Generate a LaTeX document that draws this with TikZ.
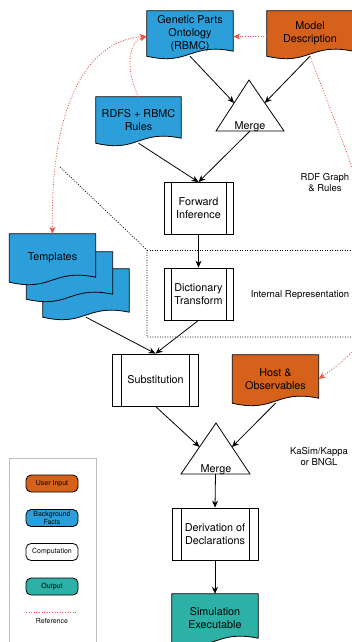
\documentclass[tikz,border=0pt]{standalone}
\usepackage{fontspec}
\setmainfont{TeX Gyre Heros}
\usetikzlibrary{arrows.meta,calc}

\definecolor{inputorange}{RGB}{214,97,26}
\definecolor{factblue}{RGB}{44,159,219}
\definecolor{outputteal}{RGB}{45,176,165}
\definecolor{refred}{RGB}{234,84,74}
\definecolor{keygray}{RGB}{190,190,190}

\pgfdeclarelayer{background}
\pgfsetlayers{background,main}

\newcommand{\boxfont}{\fontsize{10.8}{13}\selectfont}
\newcommand{\notefont}{\fontsize{9.5}{11}\selectfont}
\newcommand{\keyfont}{\fontsize{7}{8.5}\selectfont}

% wavy-bottom document outline behind a node
\newcommand{\docshape}[2]{%
	\begin{pgfonlayer}{background}
		\draw[line width=0.8pt, fill=#2] (#1.south west) -- (#1.north west) -- (#1.north east)
			-- ([yshift=5pt]#1.south east)
			.. controls ([yshift=14pt]#1.south) and ([yshift=-10pt]#1.south) .. (#1.south west) -- cycle;
	\end{pgfonlayer}}

\tikzset{
	doc/.style={minimum width=86pt, minimum height=#1, inner sep=0pt, align=center, font=\boxfont},
	doc/.default=46pt,
	process/.style={draw, line width=0.8pt, fill=white, minimum width=86pt, minimum height=52pt,
		inner sep=0pt, align=center, font=\boxfont,
		path picture={
			\draw[line width=0.8pt] ([xshift=#1]path picture bounding box.north west) -- ([xshift=#1]path picture bounding box.south west)
				([xshift=-#1]path picture bounding box.north east) -- ([xshift=-#1]path picture bounding box.south east);}},
	process/.default=9pt,
	keybox/.style={draw, line width=0.8pt, rounded corners=5pt, minimum width=52pt, minimum height=17pt,
		inner sep=0pt, align=center, font=\keyfont},
	note/.style={align=center, font=\notefont, inner sep=0pt},
	flow/.style={->, line width=0.8pt},
	refarrow/.style={refred, line width=0.8pt, dash pattern=on 1pt off 1.6pt},
}

\begin{document}
\begin{tikzpicture}[x=1pt, y=-1pt, >={Stealth[length=7pt,width=6pt]}]
		\useasboundingbox (0,0) rectangle (351,642);

		% inputs and facts
		\node[doc=45pt] (onto) at (190,33.5) {Genetic Parts\\Ontology\\(RBMC)};
		\docshape{onto}{factblue}
		\node[doc=45pt] (model) at (310,33.5) {Model\\Description};
		\docshape{model}{inputorange}
		\node[doc, minimum width=85pt] (rdfs) at (138.5,120) {RDFS + RBMC\\Rules};
		\docshape{rdfs}{factblue}

		% first merge
		\coordinate (m1top) at (249,80);
		\coordinate (m1left) at (216,131);
		\coordinate (m1right) at (284,131);
		\draw[line width=0.8pt, fill=white] (m1top) -- (m1left) -- (m1right) -- cycle;
		\node[font=\boxfont, anchor=base, inner sep=0pt] (merge1) at (250,129.5) {Merge};
		\coordinate (m1in1) at ($(m1top)!0.45!(m1left)$);
		\coordinate (m1in2) at ($(m1top)!0.45!(m1right)$);
		\coordinate (m1out) at ($(m1left)!0.5!(m1right)$);

		% internal representation
		\node[process=7pt, minimum width=69pt] (fwd) at (198.5,208.5) {Forward\\Inference};
		\node[process=7pt, minimum width=69pt] (dict) at (198.5,294) {Dictionary\\Transform};
		\draw[dash pattern=on 1pt off 1.5pt, line width=0.7pt] (60,167) -- (147,250) -- (147,337) -- (360,337);
		\draw[dash pattern=on 1pt off 1.5pt, line width=0.7pt] (147,250) -- (360,250);

		% templates stack
		\node[doc=48pt] (tmplc) at (86,293) {};
		\docshape{tmplc}{factblue}
		\node[doc=47pt] (tmplb) at (69.5,275.5) {};
		\docshape{tmplb}{factblue}
		\node[doc=48pt] (tmpl) at (52.5,258) {Templates};
		\docshape{tmpl}{factblue}

		\node[process] (subst) at (155.5,380) {Substitution};
		\node[doc=48pt] (host) at (275.5,379) {Host \&\\Observables};
		\docshape{host}{inputorange}

		% second merge
		\coordinate (m2top) at (216,423);
		\coordinate (m2left) at (181,474);
		\coordinate (m2right) at (250,474);
		\draw[line width=0.8pt, fill=white] (m2top) -- (m2left) -- (m2right) -- cycle;
		\node[font=\boxfont, anchor=base, inner sep=0pt] (merge2) at (216,472) {Merge};
		\coordinate (m2in1) at ($(m2top)!0.47!(m2left)$);
		\coordinate (m2in2) at ($(m2top)!0.47!(m2right)$);
		\coordinate (m2out) at ($(m2left)!0.5!(m2right)$);

		\node[process] (dod) at (215,534) {Derivation of\\Declarations};
		\node[doc=49pt] (simx) at (215,618.5) {Simulation\\Executable};
		\docshape{simx}{outputteal}

		% notes
		\node[note] (rdfnote) at (325,183) {RDF Graph\\\& Rules};
		\node[note] (irnote) at (300,295) {Internal Representation};
		\node[note] (kasimnote) at (319,457) {KaSim/Kappa\\or BNGL};

		% flow
		\draw[flow] (onto.south) -- (m1in1);
		\draw[flow] (model.south) -- (m1in2);
		\draw[flow] (m1out) -- (fwd.north);
		\draw[flow] (rdfs.south) -- (fwd.north);
		\draw[flow] (fwd) -- (dict);
		\draw[flow] (dict.south) -- (subst.north);
		\draw[flow] (tmplc.south) -- (subst.north);
		\draw[flow] (subst.south) -- (m2in1);
		\draw[flow] (host.south) -- (m2in2);
		\draw[flow] (m2out) -- (dod.north);
		\draw[flow] (dod) -- (simx);

		% references
		\draw[refarrow, ->] ([yshift=-3pt]model.west) -- ([yshift=-3pt]onto.east);
		\draw[refarrow, ->] (rdfs.north) .. controls (127,75) and (126,42) .. ([yshift=-3pt]onto.west);
		\draw[refarrow, <->] (tmpl.north) .. controls (50,110) and (85,40) .. ([yshift=-3pt]onto.west);
		\coordinate (rdfbend) at (375,260);
		\draw[refarrow, ->] (model.south) .. controls (350,160) and (370,210) .. (rdfbend)
			.. controls (380,340) and (345,360) .. (host.east);

		% legend
		\node[draw=keygray, line width=0.8pt, minimum width=87pt, minimum height=200pt] (legend) at (52.5,558) {};
		\node[keybox, fill=inputorange] (keyinput) at (52,483.5) {User Input};
		\node[keybox, fill=factblue] (keyfacts) at (52,518) {Background\\Facts};
		\node[keybox, fill=white] (keycomp) at (52,552) {Computation};
		\node[keybox, fill=outputteal] (keyout) at (52,586.5) {Output};
		\coordinate (keyrefa) at (26,612);
		\coordinate (keyrefb) at (78,612);
		\draw[refarrow] (keyrefa) -- (keyrefb);
		\node[font=\keyfont] (keyref) at (52,621) {Reference};
	\end{tikzpicture}
\end{document}
